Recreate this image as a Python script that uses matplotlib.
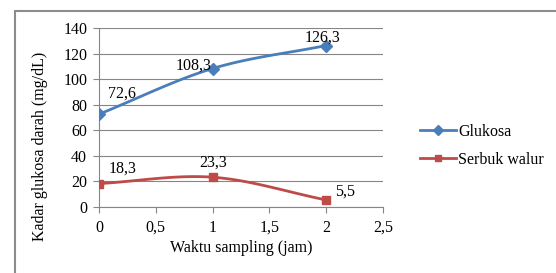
import numpy as np
import matplotlib
matplotlib.use("Agg")
import matplotlib.pyplot as plt
from matplotlib.patches import Rectangle
from matplotlib.lines import Line2D

waktu = [0, 1, 2]
glukosa = [72.6, 108.3, 126.3]
serbuk = [18.3, 23.3, 5.5]
glukosa_labels = ["72,6", "108,3", "126,3"]
serbuk_labels = ["18,3", "23,3", "5,5"]
xticks = [0, 0.5, 1, 1.5, 2, 2.5]
xticklabels = ["0", "0,5", "1", "1,5", "2", "2,5"]
yticks = [0, 20, 40, 60, 80, 100, 120, 140]

plt.rcParams['font.family'] = ['Liberation Serif', 'DejaVu Serif']

BLUE = "#4A7EBB"
RED = "#BE4B48"
FS = 11.5


def smooth(x, y, n=40):
    x = np.asarray(x, float)
    y = np.asarray(y, float)
    px = np.concatenate([[2 * x[0] - x[1]], x, [2 * x[-1] - x[-2]]])
    py = np.concatenate([[2 * y[0] - y[1]], y, [2 * y[-1] - y[-2]]])
    xs, ys = [], []
    for i in range(1, len(px) - 2):
        t = np.linspace(0, 1, n)
        p0, p1, p2, p3 = (np.array([px[j], py[j]]) for j in range(i - 1, i + 3))
        c1 = p1 + (p2 - p0) / 6
        c2 = p2 - (p3 - p1) / 6
        b = ((1 - t) ** 3)[:, None] * p1 + (3 * (1 - t) ** 2 * t)[:, None] * c1 \
            + (3 * (1 - t) * t ** 2)[:, None] * c2 + (t ** 3)[:, None] * p2
        xs.extend(b[:, 0]); ys.extend(b[:, 1])
    return xs, ys


fig = plt.figure(figsize=(5.56, 2.73), dpi=100)
W, H = 556, 273
ax = fig.add_axes([99 / W, 1 - 207 / H, (383 - 99) / W, (207 - 28) / H])

for data, col, mk, ms in [(glukosa, BLUE, "D", 6), (serbuk, RED, "s", 6)]:
    sx, sy = smooth(waktu, data)
    ax.plot(sx, sy, color=col, lw=2, zorder=3, solid_capstyle="round")
    ax.plot(waktu, data, ls="none", marker=mk, ms=ms, color=col, zorder=4)

g_off = [(23, 21), (-19, 3), (-4, 8)]
s_off = [(24, 15), (1, 15), (19, 8)]
for xv, yv, lab, off in zip(waktu, glukosa, glukosa_labels, g_off):
    ax.annotate(lab, (xv, yv), xytext=off, textcoords="offset pixels",
                ha="center", va="center", fontsize=FS, zorder=5)
for xv, yv, lab, off in zip(waktu, serbuk, serbuk_labels, s_off):
    ax.annotate(lab, (xv, yv), xytext=off, textcoords="offset pixels",
                ha="center", va="center", fontsize=FS, zorder=5)

ax.set_xlim(0, 2.5)
ax.set_ylim(0, 140)
ax.set_xticks(xticks)
ax.set_xticklabels(xticklabels)
ax.set_yticks(yticks)
ax.tick_params(axis="both", labelsize=FS, colors="#000000", length=4, width=0.8)
ax.tick_params(axis="x", color="#868686", pad=5)
ax.tick_params(axis="y", color="#868686", pad=4.5)
ax.grid(axis="y", color="#868686", lw=0.8)
ax.set_axisbelow(True)
for s in ["top", "right"]:
    ax.spines[s].set_visible(False)
for s in ["left", "bottom"]:
    ax.spines[s].set_color("#868686")
    ax.spines[s].set_linewidth(0.8)

fig.text(241 / W, 1 - 248 / H, "Waktu sampling (jam)", ha="center", va="center",
         fontsize=FS)
fig.text(40 / W, 1 - 146 / H, "Kadar glukosa darah (mg/dL)", ha="center",
         va="center", rotation=90, fontsize=FS)

handles = [
    Line2D([], [], color=BLUE, lw=2, marker="D", ms=5),
    Line2D([], [], color=RED, lw=2, marker="s", ms=5),
]
fig.legend(handles, ["Glukosa", "Serbuk walur"], loc="center left",
           bbox_to_anchor=(406 / W, 1 - 146 / H), frameon=False, fontsize=FS,
           handlelength=2.2, handletextpad=0.15, labelspacing=0.75)

fig.patches.append(Rectangle((15 / W, -0.1), 1.2, 1 - 11 / H + 0.1,
                             transform=fig.transFigure, fill=False,
                             edgecolor="#8c8c8c", lw=1.5, zorder=0))

fig.savefig("out.png", dpi=100)
